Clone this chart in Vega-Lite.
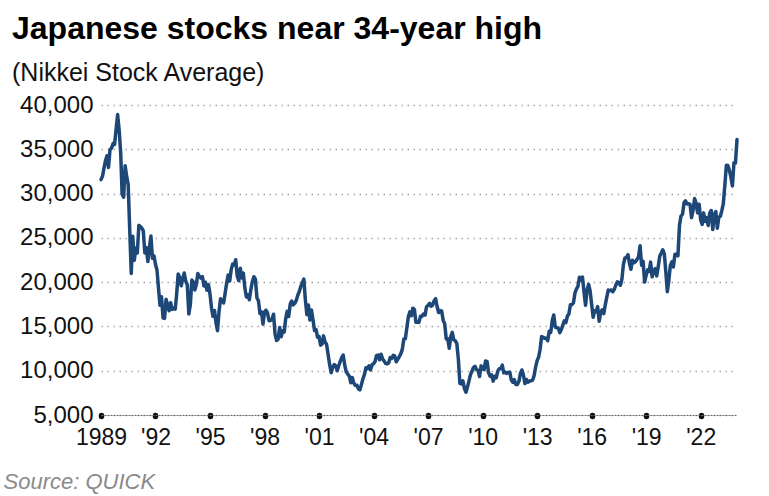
{
"$schema": "https://vega.github.io/schema/vega-lite/v6.json",
"width": 636, "height": 310,
"autosize": {"type": "none"},
"padding": {"left": 101, "top": 105, "right": 32, "bottom": 80},
"background": "white",
"title": {"text": "Japanese stocks near 34-year high", "subtitle": "(Nikkei Stock Average)", "anchor": "start", "frame": "group", "dx": -89, "offset": 6, "font": "Liberation Sans", "fontSize": 32, "fontWeight": "bold", "color": "#000000", "subtitleFont": "Liberation Sans", "subtitleFontSize": 25, "subtitleColor": "#111111", "subtitlePadding": 15},
"config": {"view": {"stroke": null}},
"data": {"values": [
{"d":"1989-01","v":31581},{"d":"1989-02","v":31986},{"d":"1989-03","v":32839},{"d":"1989-04","v":33714},{"d":"1989-05","v":34267},{"d":"1989-06","v":32949},{"d":"1989-07","v":34954},{"d":"1989-08","v":35137},{"d":"1989-09","v":35637},{"d":"1989-10","v":35549},{"d":"1989-11","v":37269},{"d":"1989-12","v":38916},
{"d":"1990-01","v":37189},{"d":"1990-02","v":34592},{"d":"1990-03","v":29980},{"d":"1990-04","v":29585},{"d":"1990-05","v":33131},{"d":"1990-06","v":31940},{"d":"1990-07","v":31036},{"d":"1990-08","v":25978},{"d":"1990-09","v":20984},{"d":"1990-10","v":25194},{"d":"1990-11","v":22455},{"d":"1990-12","v":23849},
{"d":"1991-01","v":23293},{"d":"1991-02","v":26409},{"d":"1991-03","v":26292},{"d":"1991-04","v":26111},{"d":"1991-05","v":25790},{"d":"1991-06","v":23291},{"d":"1991-07","v":23900},{"d":"1991-08","v":22335},{"d":"1991-09","v":23916},{"d":"1991-10","v":25222},{"d":"1991-11","v":22687},{"d":"1991-12","v":22984},
{"d":"1992-01","v":22023},{"d":"1992-02","v":21339},{"d":"1992-03","v":19346},{"d":"1992-04","v":17391},{"d":"1992-05","v":18348},{"d":"1992-06","v":15952},{"d":"1992-07","v":15910},{"d":"1992-08","v":18061},{"d":"1992-09","v":17399},{"d":"1992-10","v":16767},{"d":"1992-11","v":17683},{"d":"1992-12","v":16925},
{"d":"1993-01","v":17024},{"d":"1993-02","v":16953},{"d":"1993-03","v":18591},{"d":"1993-04","v":20919},{"d":"1993-05","v":20552},{"d":"1993-06","v":19590},{"d":"1993-07","v":20380},{"d":"1993-08","v":21027},{"d":"1993-09","v":20106},{"d":"1993-10","v":19703},{"d":"1993-11","v":16408},{"d":"1993-12","v":17417},
{"d":"1994-01","v":20229},{"d":"1994-02","v":19997},{"d":"1994-03","v":19112},{"d":"1994-04","v":19725},{"d":"1994-05","v":20974},{"d":"1994-06","v":20644},{"d":"1994-07","v":20449},{"d":"1994-08","v":20629},{"d":"1994-09","v":19564},{"d":"1994-10","v":19990},{"d":"1994-11","v":19076},{"d":"1994-12","v":19723},
{"d":"1995-01","v":18650},{"d":"1995-02","v":17053},{"d":"1995-03","v":16140},{"d":"1995-04","v":16807},{"d":"1995-05","v":15437},{"d":"1995-06","v":14517},{"d":"1995-07","v":16678},{"d":"1995-08","v":18117},{"d":"1995-09","v":17913},{"d":"1995-10","v":17655},{"d":"1995-11","v":18744},{"d":"1995-12","v":19868},
{"d":"1996-01","v":20813},{"d":"1996-02","v":20125},{"d":"1996-03","v":21407},{"d":"1996-04","v":22041},{"d":"1996-05","v":21956},{"d":"1996-06","v":22531},{"d":"1996-07","v":20693},{"d":"1996-08","v":20167},{"d":"1996-09","v":21556},{"d":"1996-10","v":20466},{"d":"1996-11","v":21020},{"d":"1996-12","v":19361},
{"d":"1997-01","v":18330},{"d":"1997-02","v":18557},{"d":"1997-03","v":18003},{"d":"1997-04","v":19151},{"d":"1997-05","v":20069},{"d":"1997-06","v":20605},{"d":"1997-07","v":20331},{"d":"1997-08","v":18229},{"d":"1997-09","v":17888},{"d":"1997-10","v":16459},{"d":"1997-11","v":16636},{"d":"1997-12","v":15259},
{"d":"1998-01","v":16628},{"d":"1998-02","v":16831},{"d":"1998-03","v":16527},{"d":"1998-04","v":15641},{"d":"1998-05","v":15671},{"d":"1998-06","v":15830},{"d":"1998-07","v":16379},{"d":"1998-08","v":14108},{"d":"1998-09","v":13406},{"d":"1998-10","v":13565},{"d":"1998-11","v":14884},{"d":"1998-12","v":13842},
{"d":"1999-01","v":14499},{"d":"1999-02","v":14368},{"d":"1999-03","v":15837},{"d":"1999-04","v":16701},{"d":"1999-05","v":16112},{"d":"1999-06","v":17530},{"d":"1999-07","v":17862},{"d":"1999-08","v":17437},{"d":"1999-09","v":17605},{"d":"1999-10","v":17943},{"d":"1999-11","v":18558},{"d":"1999-12","v":18934},
{"d":"2000-01","v":19540},{"d":"2000-02","v":19960},{"d":"2000-03","v":20337},{"d":"2000-04","v":17974},{"d":"2000-05","v":16332},{"d":"2000-06","v":17411},{"d":"2000-07","v":15728},{"d":"2000-08","v":16861},{"d":"2000-09","v":15747},{"d":"2000-10","v":14540},{"d":"2000-11","v":14649},{"d":"2000-12","v":13786},
{"d":"2001-01","v":13844},{"d":"2001-02","v":12884},{"d":"2001-03","v":12999},{"d":"2001-04","v":13934},{"d":"2001-05","v":13262},{"d":"2001-06","v":12969},{"d":"2001-07","v":11861},{"d":"2001-08","v":10714},{"d":"2001-09","v":9775},{"d":"2001-10","v":10367},{"d":"2001-11","v":10697},{"d":"2001-12","v":10543},
{"d":"2002-01","v":9998},{"d":"2002-02","v":10588},{"d":"2002-03","v":11025},{"d":"2002-04","v":11493},{"d":"2002-05","v":11764},{"d":"2002-06","v":10622},{"d":"2002-07","v":9878},{"d":"2002-08","v":9619},{"d":"2002-09","v":9383},{"d":"2002-10","v":8640},{"d":"2002-11","v":9216},{"d":"2002-12","v":8579},
{"d":"2003-01","v":8340},{"d":"2003-02","v":8363},{"d":"2003-03","v":7973},{"d":"2003-04","v":7831},{"d":"2003-05","v":8425},{"d":"2003-06","v":9083},{"d":"2003-07","v":9563},{"d":"2003-08","v":10344},{"d":"2003-09","v":10219},{"d":"2003-10","v":10560},{"d":"2003-11","v":10101},{"d":"2003-12","v":10677},
{"d":"2004-01","v":10784},{"d":"2004-02","v":11042},{"d":"2004-03","v":11715},{"d":"2004-04","v":11762},{"d":"2004-05","v":11236},{"d":"2004-06","v":11859},{"d":"2004-07","v":11326},{"d":"2004-08","v":11082},{"d":"2004-09","v":10824},{"d":"2004-10","v":10771},{"d":"2004-11","v":10899},{"d":"2004-12","v":11489},
{"d":"2005-01","v":11388},{"d":"2005-02","v":11741},{"d":"2005-03","v":11668},{"d":"2005-04","v":11009},{"d":"2005-05","v":11277},{"d":"2005-06","v":11584},{"d":"2005-07","v":11900},{"d":"2005-08","v":12414},{"d":"2005-09","v":13574},{"d":"2005-10","v":13607},{"d":"2005-11","v":14872},{"d":"2005-12","v":16111},
{"d":"2006-01","v":16650},{"d":"2006-02","v":16205},{"d":"2006-03","v":17060},{"d":"2006-04","v":16906},{"d":"2006-05","v":15467},{"d":"2006-06","v":15505},{"d":"2006-07","v":15457},{"d":"2006-08","v":16141},{"d":"2006-09","v":16128},{"d":"2006-10","v":16399},{"d":"2006-11","v":16274},{"d":"2006-12","v":17226},
{"d":"2007-01","v":17383},{"d":"2007-02","v":17604},{"d":"2007-03","v":17288},{"d":"2007-04","v":17400},{"d":"2007-05","v":17876},{"d":"2007-06","v":18138},{"d":"2007-07","v":17249},{"d":"2007-08","v":16569},{"d":"2007-09","v":16786},{"d":"2007-10","v":16737},{"d":"2007-11","v":15681},{"d":"2007-12","v":15308},
{"d":"2008-01","v":13592},{"d":"2008-02","v":13604},{"d":"2008-03","v":12526},{"d":"2008-04","v":13850},{"d":"2008-05","v":14339},{"d":"2008-06","v":13481},{"d":"2008-07","v":13377},{"d":"2008-08","v":13073},{"d":"2008-09","v":11260},{"d":"2008-10","v":8577},{"d":"2008-11","v":8512},{"d":"2008-12","v":8860},
{"d":"2009-01","v":7994},{"d":"2009-02","v":7568},{"d":"2009-03","v":8110},{"d":"2009-04","v":8828},{"d":"2009-05","v":9523},{"d":"2009-06","v":9958},{"d":"2009-07","v":10357},{"d":"2009-08","v":10493},{"d":"2009-09","v":10133},{"d":"2009-10","v":10035},{"d":"2009-11","v":9345},{"d":"2009-12","v":10546},
{"d":"2010-01","v":10198},{"d":"2010-02","v":10126},{"d":"2010-03","v":11090},{"d":"2010-04","v":11057},{"d":"2010-05","v":9769},{"d":"2010-06","v":9383},{"d":"2010-07","v":9537},{"d":"2010-08","v":8824},{"d":"2010-09","v":9369},{"d":"2010-10","v":9202},{"d":"2010-11","v":9937},{"d":"2010-12","v":10229},
{"d":"2011-01","v":10238},{"d":"2011-02","v":10624},{"d":"2011-03","v":9755},{"d":"2011-04","v":9850},{"d":"2011-05","v":9694},{"d":"2011-06","v":9816},{"d":"2011-07","v":9833},{"d":"2011-08","v":8955},{"d":"2011-09","v":8700},{"d":"2011-10","v":8988},{"d":"2011-11","v":8435},{"d":"2011-12","v":8455},
{"d":"2012-01","v":8803},{"d":"2012-02","v":9723},{"d":"2012-03","v":10084},{"d":"2012-04","v":9521},{"d":"2012-05","v":8543},{"d":"2012-06","v":9007},{"d":"2012-07","v":8695},{"d":"2012-08","v":8840},{"d":"2012-09","v":8870},{"d":"2012-10","v":8928},{"d":"2012-11","v":9446},{"d":"2012-12","v":10395},
{"d":"2013-01","v":11139},{"d":"2013-02","v":11559},{"d":"2013-03","v":12398},{"d":"2013-04","v":13861},{"d":"2013-05","v":13775},{"d":"2013-06","v":13677},{"d":"2013-07","v":13668},{"d":"2013-08","v":13389},{"d":"2013-09","v":14456},{"d":"2013-10","v":14328},{"d":"2013-11","v":15662},{"d":"2013-12","v":16291},
{"d":"2014-01","v":14915},{"d":"2014-02","v":14841},{"d":"2014-03","v":14828},{"d":"2014-04","v":14304},{"d":"2014-05","v":14632},{"d":"2014-06","v":15162},{"d":"2014-07","v":15621},{"d":"2014-08","v":15425},{"d":"2014-09","v":16174},{"d":"2014-10","v":16414},{"d":"2014-11","v":17460},{"d":"2014-12","v":17451},
{"d":"2015-01","v":17674},{"d":"2015-02","v":18798},{"d":"2015-03","v":19207},{"d":"2015-04","v":19520},{"d":"2015-05","v":20563},{"d":"2015-06","v":20236},{"d":"2015-07","v":20585},{"d":"2015-08","v":18890},{"d":"2015-09","v":17388},{"d":"2015-10","v":19083},{"d":"2015-11","v":19747},{"d":"2015-12","v":19034},
{"d":"2016-01","v":17518},{"d":"2016-02","v":16027},{"d":"2016-03","v":16759},{"d":"2016-04","v":16666},{"d":"2016-05","v":17235},{"d":"2016-06","v":15576},{"d":"2016-07","v":16569},{"d":"2016-08","v":16887},{"d":"2016-09","v":16450},{"d":"2016-10","v":17425},{"d":"2016-11","v":18308},{"d":"2016-12","v":19114},
{"d":"2017-01","v":19041},{"d":"2017-02","v":19119},{"d":"2017-03","v":18909},{"d":"2017-04","v":19197},{"d":"2017-05","v":19651},{"d":"2017-06","v":20033},{"d":"2017-07","v":19925},{"d":"2017-08","v":19646},{"d":"2017-09","v":20356},{"d":"2017-10","v":22012},{"d":"2017-11","v":22725},{"d":"2017-12","v":22765},
{"d":"2018-01","v":23098},{"d":"2018-02","v":22068},{"d":"2018-03","v":21454},{"d":"2018-04","v":22468},{"d":"2018-05","v":22202},{"d":"2018-06","v":22305},{"d":"2018-07","v":22554},{"d":"2018-08","v":22865},{"d":"2018-09","v":24120},{"d":"2018-10","v":21920},{"d":"2018-11","v":22351},{"d":"2018-12","v":20015},
{"d":"2019-01","v":20773},{"d":"2019-02","v":21385},{"d":"2019-03","v":21206},{"d":"2019-04","v":22259},{"d":"2019-05","v":20601},{"d":"2019-06","v":21276},{"d":"2019-07","v":21522},{"d":"2019-08","v":20704},{"d":"2019-09","v":21756},{"d":"2019-10","v":22927},{"d":"2019-11","v":23294},{"d":"2019-12","v":23657},
{"d":"2020-01","v":23205},{"d":"2020-02","v":21143},{"d":"2020-03","v":18917},{"d":"2020-04","v":20194},{"d":"2020-05","v":21878},{"d":"2020-06","v":22288},{"d":"2020-07","v":21710},{"d":"2020-08","v":23140},{"d":"2020-09","v":23185},{"d":"2020-10","v":22977},{"d":"2020-11","v":26434},{"d":"2020-12","v":27444},
{"d":"2021-01","v":27663},{"d":"2021-02","v":28966},{"d":"2021-03","v":29179},{"d":"2021-04","v":28813},{"d":"2021-05","v":28860},{"d":"2021-06","v":28792},{"d":"2021-07","v":27284},{"d":"2021-08","v":28090},{"d":"2021-09","v":29453},{"d":"2021-10","v":28893},{"d":"2021-11","v":27822},{"d":"2021-12","v":28792},
{"d":"2022-01","v":27002},{"d":"2022-02","v":26527},{"d":"2022-03","v":27821},{"d":"2022-04","v":26848},{"d":"2022-05","v":27280},{"d":"2022-06","v":26393},{"d":"2022-07","v":27802},{"d":"2022-08","v":28092},{"d":"2022-09","v":25937},{"d":"2022-10","v":27587},{"d":"2022-11","v":27969},{"d":"2022-12","v":26095},
{"d":"2023-01","v":27327},{"d":"2023-02","v":27446},{"d":"2023-03","v":28041},{"d":"2023-04","v":28856},{"d":"2023-05","v":30888},{"d":"2023-06","v":33189},{"d":"2023-07","v":33172},{"d":"2023-08","v":32619},{"d":"2023-09","v":31858},{"d":"2023-10","v":30859},{"d":"2023-11","v":33487},{"d":"2023-12","v":33464},
{"d":"2024-01","v":36100}
]},
"mark": {"type": "line", "color": "#1d4777", "strokeWidth": 3.5, "strokeJoin": "round", "strokeCap": "round"},
"encoding": {
"x": {"field": "d", "type": "temporal",
 "scale": {"type": "utc", "domain": [{"year": 1989, "month": 1, "date": 1, "utc": true}, {"year": 2024, "month": 1, "date": 1, "utc": true}]},
 "axis": {"title": "Source: QUICK", "titleX": -98, "titleY": 73, "titleAlign": "left", "titleAnchor": "start", "titleBaseline": "alphabetic", "titleFont": "Liberation Sans", "titleFontSize": 22, "titleFontStyle": "italic", "titleFontWeight": "normal", "titleColor": "#8a8a8a",
  "values": [{"year":1989,"month":1,"date":1,"utc":true},{"year":1992,"month":1,"date":1,"utc":true},{"year":1995,"month":1,"date":1,"utc":true},{"year":1998,"month":1,"date":1,"utc":true},{"year":2001,"month":1,"date":1,"utc":true},{"year":2004,"month":1,"date":1,"utc":true},{"year":2007,"month":1,"date":1,"utc":true},{"year":2010,"month":1,"date":1,"utc":true},{"year":2013,"month":1,"date":1,"utc":true},{"year":2016,"month":1,"date":1,"utc":true},{"year":2019,"month":1,"date":1,"utc":true},{"year":2022,"month":1,"date":1,"utc":true}],
  "labelExpr": "utcFormat(datum.value, '%Y') == '1989' ? '1989' : \"'\" + utcFormat(datum.value, '%y')",
  "labelFont": "Liberation Sans", "labelFontSize": 23, "labelColor": "#111111", "labelPadding": 10, "labelFlush": false, "labelOverlap": false,
  "tickSize": 1, "tickWidth": 5.5, "tickCap": "round", "tickColor": "#111111",
  "domainColor": "#666666", "domainDash": [2, 1], "domainWidth": 1, "grid": false}},
"y": {"field": "v", "type": "quantitative",
 "scale": {"domain": [5000, 40000], "nice": false, "zero": false},
 "axis": {"title": null, "values": [5000, 10000, 15000, 20000, 25000, 30000, 35000, 40000], "format": ",d",
  "labelFont": "Liberation Sans", "labelFontSize": 24, "labelColor": "#111111", "labelPadding": 8, "labelFlush": false,
  "ticks": false, "domain": false, "grid": true, "gridDash": [1.5, 4.5], "gridColor": "#a8a8a8", "gridWidth": 1.5}}
}
}
